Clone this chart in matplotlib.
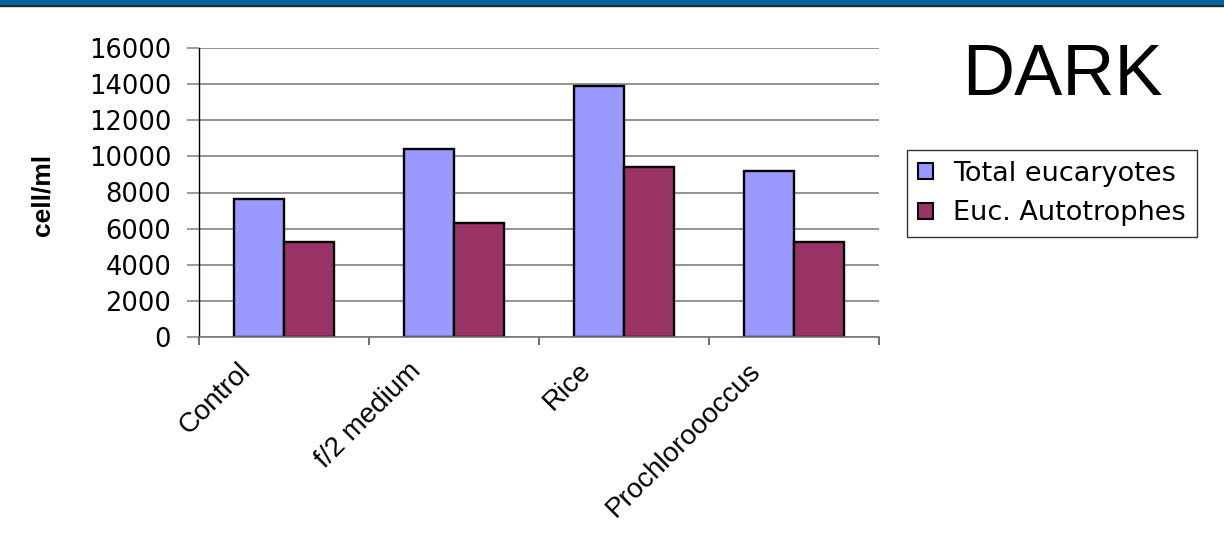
import matplotlib
matplotlib.use("Agg")
import matplotlib.pyplot as plt
import matplotlib.transforms as mtransforms
from matplotlib.patches import Rectangle
import numpy as np

# data
categories = ["Control", "f/2 medium", "Rice", "Prochloroooccus"]
total_euc = [7650, 10400, 13900, 9200]
euc_auto = [5250, 6300, 9400, 5250]
yticks = [0, 2000, 4000, 6000, 8000, 10000, 12000, 14000, 16000]

W, H = 1224, 542
plt.rcParams['font.family'] = 'DejaVu Sans'

fig = plt.figure(figsize=(W / 100, H / 100), dpi=100, facecolor='white')

# slide header strip
fig.add_artist(Rectangle((0, 1 - 5.5 / H), 1, 5.5 / H, transform=fig.transFigure,
                         facecolor='#00669c', edgecolor='none'))
fig.add_artist(Rectangle((0, 1 - 7 / H), 1, 1.5 / H, transform=fig.transFigure,
                         facecolor='#1c2a33', edgecolor='none'))
fig.add_artist(Rectangle((0, 1 - 8 / H), 1, 1 / H, transform=fig.transFigure,
                         facecolor='#d8d4c0', edgecolor='none'))

ax = fig.add_axes([199 / W, 1 - 337 / H, 680 / W, 289 / H])

x = np.arange(len(categories))
bw = 0.294
ax.bar(x - bw / 2, total_euc, bw, color='#9999ff', edgecolor='black', linewidth=1.7,
       label='Total eucaryotes')
ax.bar(x + bw / 2, euc_auto, bw, color='#993366', edgecolor='black', linewidth=1.7,
       label='Euc. Autotrophes')

ax.set_xlim(-0.5, len(categories) - 0.5)
ax.set_ylim(0, 16000)
ax.set_yticks(yticks)
ax.set_yticklabels([str(v) for v in yticks], fontsize=18.5)
ax.yaxis.grid(True, color='#8a8a8a', linewidth=1.3)
ax.set_axisbelow(True)
ax.tick_params(axis='y', direction='out', length=9, width=1.2, color='#8a8a8a', pad=11)

# boundary ticks (major) and category labels (minor)
ax.set_xticks(np.arange(len(categories) + 1) - 0.5)
ax.set_xticklabels([])
ax.set_xticks(x, minor=True)
ax.set_xticklabels(categories, minor=True, rotation=45, ha='right', va='top',
                   rotation_mode='anchor', fontsize=20, family='Liberation Sans')
ax.tick_params(axis='x', which='major', direction='out', length=6, width=1.2, color='#555555')
ax.tick_params(axis='x', which='minor', length=0, pad=15)
shift = mtransforms.ScaledTranslation(-46 / 100, 0, fig.dpi_scale_trans)
for lbl in ax.get_xticklabels(minor=True):
    lbl.set_transform(lbl.get_transform() + shift)

for s in ['top', 'right']:
    ax.spines[s].set_visible(False)
ax.spines['left'].set_color('black')
ax.spines['left'].set_linewidth(1.0)
ax.spines['bottom'].set_color('#777777')
ax.spines['bottom'].set_linewidth(1.2)

ax.set_ylabel('cell/ml', fontsize=19, fontweight='bold', family='Liberation Sans')
ax.yaxis.set_label_coords(-0.213, 0.49)

leg = ax.legend(loc='upper left', bbox_to_anchor=(907 / W, 1 - 150 / H),
                bbox_transform=fig.transFigure, fontsize=19.5, frameon=True, fancybox=False,
                edgecolor='#333333', framealpha=1, handlelength=0.55, handleheight=0.55,
                handletextpad=0.75, labelspacing=0.5, borderpad=0.4, borderaxespad=0)
leg.get_frame().set_linewidth(1.0)
for p in leg.get_patches():
    p.set_linewidth(1.5)

fig.text(1062 / W, 1 - 95 / H, 'DARK', fontsize=52, family='Liberation Sans',
         ha='center', va='baseline')

fig.savefig('out.png', dpi=100, facecolor='white')
